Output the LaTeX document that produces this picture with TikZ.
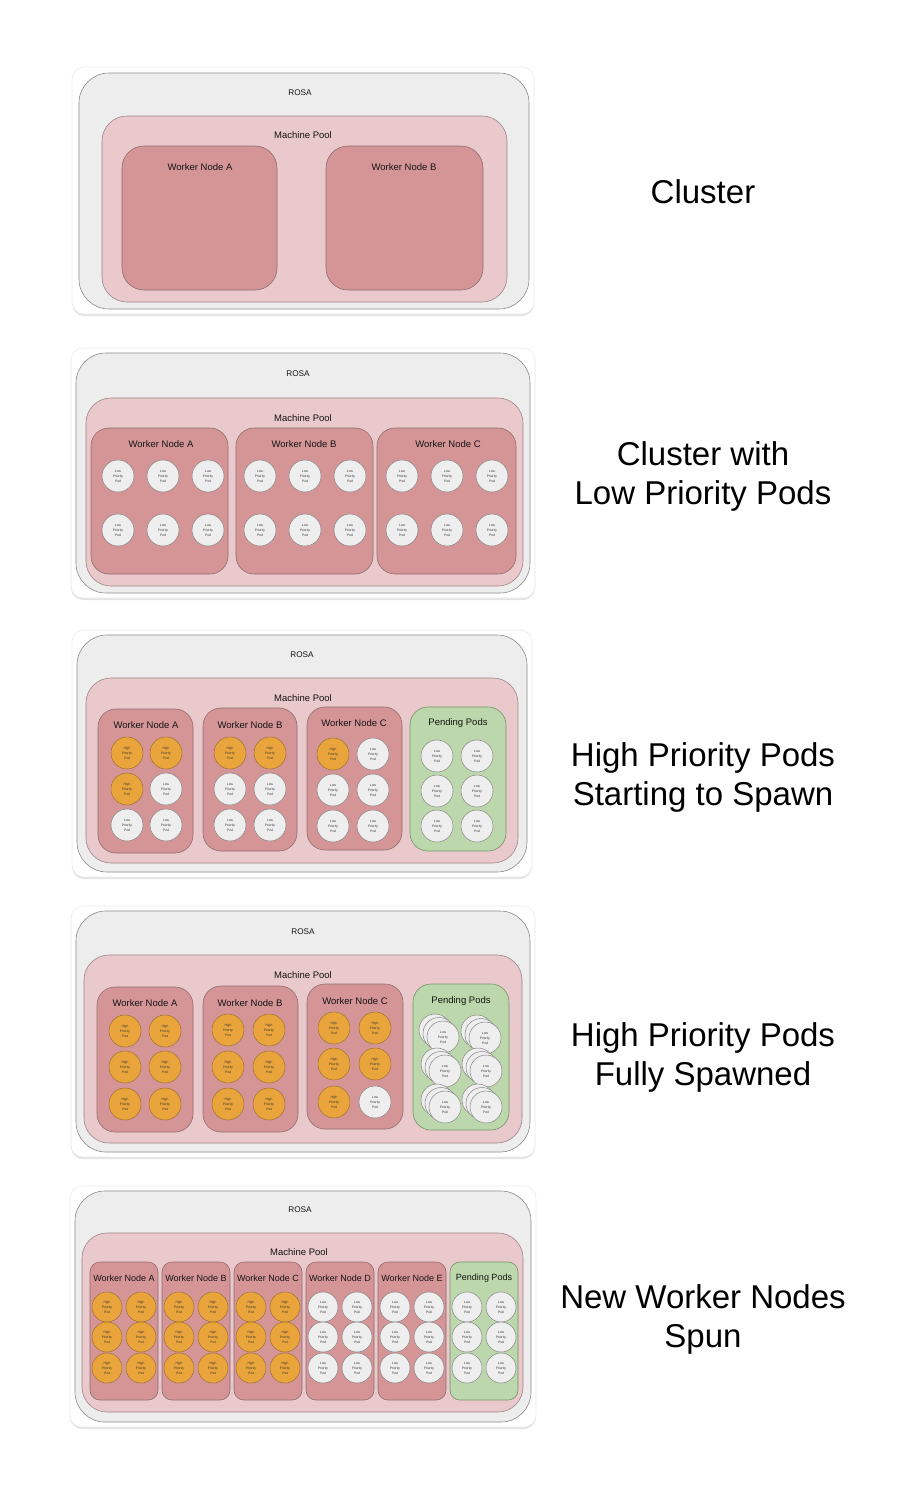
\documentclass[tikz,border=0pt]{standalone}
\usepackage{fontspec}
\setmainfont{Liberation Sans}
\usepackage{xcolor}
\usepackage{tikz}
\usetikzlibrary{fit,shadows}

\definecolor{rosafill}{HTML}{EDEDED}
\definecolor{rosaedge}{HTML}{8A8A8A}
\definecolor{poolfill}{HTML}{E9C9CB}
\definecolor{pooledge}{HTML}{A08486}
\definecolor{workfill}{HTML}{D59597}
\definecolor{workedge}{HTML}{8F6C6D}
\definecolor{pendfill}{HTML}{BCD7AB}
\definecolor{pendedge}{HTML}{74926A}
\definecolor{hifill}{HTML}{E9A53C}
\definecolor{hiedge}{HTML}{9A7030}
\definecolor{lofill}{HTML}{EEEEEE}
\definecolor{loedge}{HTML}{858585}

\tikzset{
  box/.style={rectangle,inner sep=0pt,line width=0.6pt},
  card/.style={box,draw=black!8,fill=white,rounded corners=12pt,
    drop shadow={shadow xshift=0pt,shadow yshift=-2pt,opacity=0.22}},
  rosa/.style={box,draw=rosaedge,fill=rosafill,rounded corners=30pt},
  pool/.style={box,draw=pooledge,fill=poolfill,rounded corners=25pt},
  worker/.style={box,draw=workedge,fill=workfill,rounded corners=18pt},
  pending/.style={box,draw=pendedge,fill=pendfill,rounded corners=18pt},
  lbl/.style={text=black!92,font=\fontsize{9.5}{11}\selectfont},
  small lbl/.style={text=black!92,font=\fontsize{9}{11}\selectfont},
  rosalbl/.style={text=black!92,font=\fontsize{8.2}{10}\selectfont},
  caption/.style={align=center,text=black,font=\fontsize{33}{39}\selectfont},
  pod/.style={circle,line width=0.5pt,minimum size=32pt,inner sep=0pt,align=center,
    text=black!80,font=\fontsize{3.3}{5}\selectfont},
  hipod/.style={pod,fill=hifill,draw=hiedge,node contents={High\\Priority\\Pod}},
  lopod/.style={pod,fill=lofill,draw=loedge,node contents={Low\\Priority\\Pod}},
  backpod/.style={pod,fill=lofill,draw=loedge,node contents={}},
}

\begin{document}
\begin{tikzpicture}[x=1pt,y=-1pt]
\useasboundingbox (0,0) rectangle (922,1499);

% cluster
\node[card,fit={(72,67) (534,314)}] (card1) {};
\node[rosa,fit={(79,73) (529,309)}] (rosa1) {};
\node[rosalbl] (rosa1l) at (300,93) {ROSA};
\node[pool,fit={(102,116) (507,302)}] (pool1) {};
\node[lbl] (pool1l) at (303,135) {Machine Pool};
\node[worker,rounded corners=22pt,fit={(122,146) (277,290)}] (w1a) {};
\node[lbl] (w1al) at (200,167) {Worker Node A};
\node[worker,rounded corners=22pt,fit={(326,146) (483,290)}] (w1b) {};
\node[lbl] (w1bl) at (404,167) {Worker Node B};
\node[caption] (cap1) at (703,192) {Cluster};

% cluster with low priority pods
\node[card,fit={(71,348) (535,598)}] (card2) {};
\node[rosa,fit={(76,353) (530,593)}] (rosa2) {};
\node[rosalbl] (rosa2l) at (298,374) {ROSA};
\node[pool,fit={(86,398) (523,586)}] (pool2) {};
\node[lbl] (pool2l) at (303,418) {Machine Pool};
\node[worker,fit={(91,428) (228,574)}] (w2a) {};
\node[lbl] (w2al) at (161,444) {Worker Node A};
\node[worker,fit={(236,428) (373,574)}] (w2b) {};
\node[lbl] (w2bl) at (304,444) {Worker Node B};
\node[worker,fit={(377,428) (516,574)}] (w2c) {};
\node[lbl] (w2cl) at (448,444) {Worker Node C};
\foreach \x in {118,163,208,260,305,350,402,447,492}
  \foreach \y in {476,530}
    \node (p2-\x-\y) at (\x,\y) [lopod];
\node[caption] (cap2) at (703,476) {Cluster with\\Low Priority Pods};

% high priority pods starting
\node[card,fit={(72,630) (532,877)}] (card3) {};
\node[rosa,fit={(77,635) (527,872)}] (rosa3) {};
\node[rosalbl] (rosa3l) at (302,655) {ROSA};
\node[pool,fit={(86,678) (518,863)}] (pool3) {};
\node[lbl] (pool3l) at (303,698) {Machine Pool};
\node[worker,fit={(98,709) (193,853)}] (w3a) {};
\node[lbl] (w3al) at (146,725) {Worker Node A};
\node[worker,fit={(203,708) (297,851)}] (w3b) {};
\node[lbl] (w3bl) at (250,725) {Worker Node B};
\node[worker,fit={(307,707) (402,850)}] (w3c) {};
\node[lbl] (w3cl) at (354,723) {Worker Node C};
\node[pending,fit={(410,707) (506,851)}] (p3) {};
\node[lbl] (p3l) at (458,723) {Pending Pods};
\foreach \x/\y/\s in {127/753/hipod,166/753/hipod,127/789/hipod,166/789/lopod,127/825/lopod,166/825/lopod,
    230/753/hipod,270/753/hipod,230/789/lopod,270/789/lopod,230/825/lopod,270/825/lopod,
    333/754/hipod,373/754/lopod,333/790/lopod,373/790/lopod,333/826/lopod,373/826/lopod,
    437/756/lopod,477/756/lopod,437/791/lopod,477/791/lopod,437/826/lopod,477/826/lopod}
  \node (p3-\x-\y) at (\x,\y) [\s];
\node[caption] (cap3) at (703,777) {High Priority Pods\\Starting to Spawn};

% high priority pods fully spawned
\node[card,fit={(71,906) (535,1157)}] (card4) {};
\node[rosa,fit={(76,911) (530,1152)}] (rosa4) {};
\node[rosalbl] (rosa4l) at (303,932) {ROSA};
\node[pool,fit={(84,955) (522,1143)}] (pool4) {};
\node[lbl] (pool4l) at (303,975) {Machine Pool};
\node[worker,fit={(97,987) (193,1132)}] (w4a) {};
\node[lbl] (w4al) at (145,1003) {Worker Node A};
\node[worker,fit={(203,986) (298,1132)}] (w4b) {};
\node[lbl] (w4bl) at (250,1003) {Worker Node B};
\node[worker,fit={(307,984) (403,1129)}] (w4c) {};
\node[lbl] (w4cl) at (355,1001) {Worker Node C};
\node[pending,fit={(413,984) (509,1130)}] (p4) {};
\node[lbl] (p4l) at (461,1001) {Pending Pods};
\foreach \x/\y/\s in {125/1031/hipod,165/1031/hipod,125/1067/hipod,165/1067/hipod,125/1104/hipod,165/1104/hipod,
    228/1030/hipod,269/1030/hipod,228/1067/hipod,269/1067/hipod,228/1104/hipod,269/1104/hipod,
    334/1028/hipod,375/1028/hipod,334/1064/hipod,375/1064/hipod,334/1102/hipod,375/1102/lopod}
  \node (p4-\x-\y) at (\x,\y) [\s];
\foreach \x/\y in {443/1037,485/1038,445/1071,486/1071,445/1107,486/1107} {
  \node (b4-\x-\y-2) at (\x-8,\y-7) [backpod];
  \node (b4-\x-\y-1) at (\x-4,\y-3.5) [backpod];
  \node (f4-\x-\y) at (\x,\y) [lopod];
}
\node[caption] (cap4) at (703,1057) {High Priority Pods\\Fully Spawned};

% new worker nodes spun
\node[card,fit={(70,1186) (536,1427)}] (card5) {};
\node[rosa,fit={(75,1191) (531,1422)}] (rosa5) {};
\node[rosalbl] (rosa5l) at (300,1210) {ROSA};
\node[pool,fit={(82,1233) (523,1412)}] (pool5) {};
\node[lbl] (pool5l) at (299,1252) {Machine Pool};
\foreach \n/\l [count=\i from 0] in {A/Worker Node A,B/Worker Node B,C/Worker Node C,D/Worker Node D,E/Worker Node E} {
  \node[worker,rounded corners=10pt,fit={(90+72*\i,1262) (158+72*\i,1400)}] (w5\n) {};
  \node[small lbl] (w5\n l) at (124+72*\i,1278) {\l};
}
\node[pending,rounded corners=10pt,fit={(450,1262) (518,1400)}] (p5) {};
\node[small lbl] (p5l) at (484,1278) {Pending Pods};
\foreach \i/\s in {0/hipod,1/hipod,2/hipod,3/lopod,4/lopod,5/lopod}
  \foreach \y in {1307,1337,1368} {
    \node (p5-\i-\y-l) at (107+72*\i,\y) [\s,minimum size=30pt];
    \node (p5-\i-\y-r) at (141+72*\i,\y) [\s,minimum size=30pt];
  }
\node[caption] (cap5) at (703,1319) {New Worker Nodes\\Spun};
\end{tikzpicture}
\end{document}
